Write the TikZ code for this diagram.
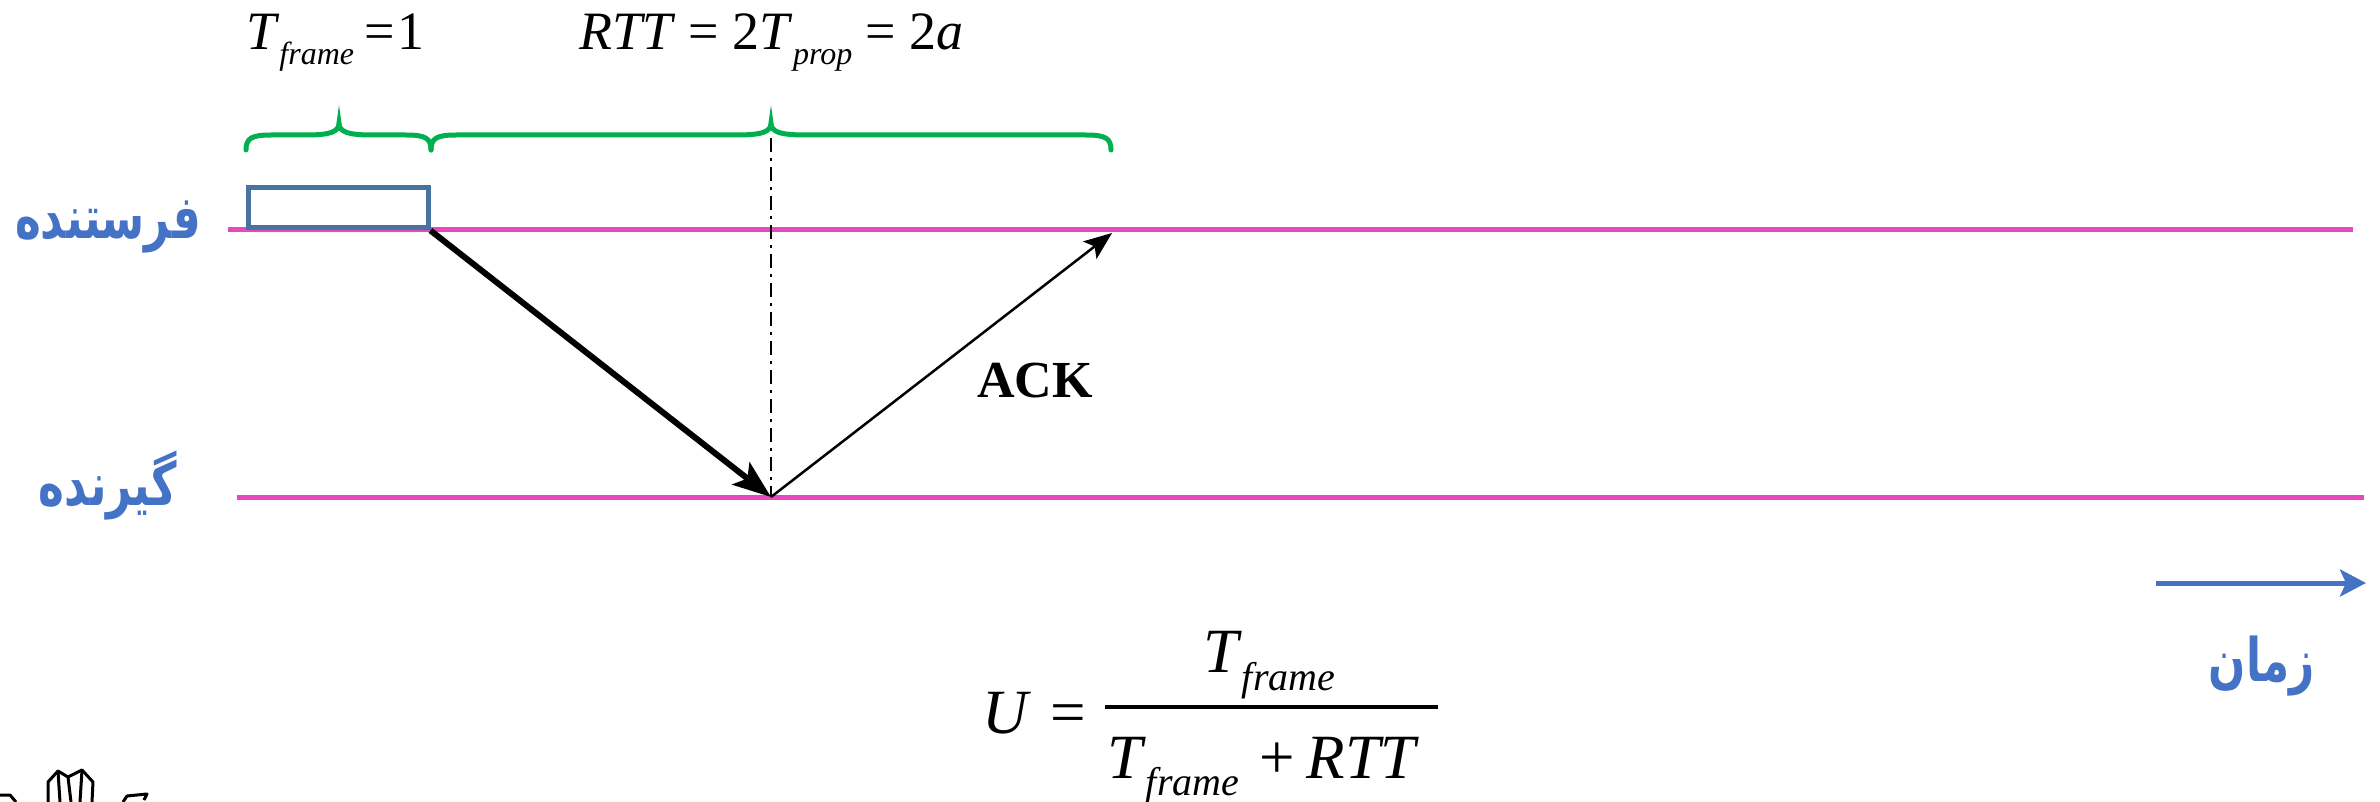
\documentclass[tikz,border=0pt]{standalone}
\usepackage{fontspec}
\setmainfont{Liberation Serif}
\newfontfamily\fa[Script=Arabic]{DejaVu Sans}
\usetikzlibrary{arrows.meta}
\TeXXeTstate=1
\definecolor{pinkline}{RGB}{232,72,190}
\definecolor{bracegreen}{RGB}{0,176,80}
\definecolor{boxblue}{RGB}{72,114,160}
\definecolor{labelblue}{RGB}{68,114,196}
\newcommand{\sbx}[3]{\raisebox{-#2pt}{\fontsize{#1}{#1}\selectfont\itshape #3}}
\newcommand{\fatext}[1]{\scalebox{0.73}[1]{\beginR #1\endR}}
\tikzset{
  timeline/.style={draw=pinkline, line width=5pt},
  bracepath/.style={draw=bracegreen, line width=5pt, line cap=round},
  falabel/.style={text=labelblue, font=\fa\bfseries\fontsize{60}{66}\selectfont, inner sep=0pt},
  mathlbl/.style={font=\fontsize{54}{60}\selectfont, inner sep=0pt, anchor=base west},
  fmath/.style={font=\fontsize{63}{70}\selectfont, inner sep=0pt, anchor=base west},
}
\begin{document}
\begin{tikzpicture}[x=1pt,y=-1pt]
\useasboundingbox (0,0) rectangle (2380,802);
% time lines
\coordinate (sL) at (228,230);
\coordinate (sR) at (2353,230);
\coordinate (rL) at (237,497);
\coordinate (rR) at (2364,497);
\draw[timeline] (sL) -- (sR);
\draw[timeline] (rL) -- (rR);
% frame box
\node[draw=boxblue, line width=5pt, fill=none, minimum width=180pt, minimum height=40pt, inner sep=0pt] (frame) at (338,208) {};
% events
\coordinate (recv) at (771,497);
\coordinate (ackend) at (1112,233);
\coordinate (dtop) at (771,138);
\draw[line width=6pt, -{Stealth[length=38pt,width=28pt,inset=8pt]}] (frame.south east) -- (recv);
\draw[line width=2.5pt, -{Stealth[length=28pt,width=22pt,inset=6pt]}] (recv) -- (ackend);
\draw[line width=2.5pt, dash pattern=on 14pt off 6pt on 3pt off 6pt] (dtop) -- (recv);
\node[font=\bfseries\fontsize{52}{56}\selectfont, inner sep=0pt, anchor=base west] (ack) at (977,397) {ACK};
% braces
\draw[bracepath] (246,150) .. controls (246,138) and (252,135) .. (271,135) -- (306,135) .. controls (330,135) and (339,132) .. (339,123) .. controls (339,132) and (348,135) .. (372,135) -- (406,135) .. controls (425,135) and (431,138) .. (431,150);
\draw[bracepath] (431,150) .. controls (431,138) and (437,135) .. (456,135) -- (736,135) .. controls (762,135) and (771,132) .. (771,123) .. controls (771,132) and (780,135) .. (806,135) -- (1086,135) .. controls (1105,135) and (1111,138) .. (1111,150);
% top labels
\node[mathlbl] (tf) at (246,50) {\textit{T}\sbx{32}{15}{frame}\hspace{10pt}=\hspace{3pt}1};
\node[mathlbl] (rtt) at (579,50) {\textit{RTT} = 2\textit{T}\sbx{32}{15}{prop} = 2\textit{a}};
% persian labels
\node[falabel, anchor=base] (sender) at (108,239) {\fatext{فرستنده}};
\node[falabel, anchor=base] (receiver) at (108,505) {\fatext{گیرنده}};
% time arrow
\coordinate (tA) at (2156,583);
\coordinate (tB) at (2366,583);
\draw[draw=labelblue, line width=5pt, -{Stealth[length=26pt,width=27pt,inset=6pt]}] (tA) -- (tB);
\node[falabel, anchor=base] (time) at (2262,681) {\fatext{زمان}};
% formula
\node[fmath] (U) at (982,733) {\textit{U}};
\node[fmath] (eq) at (1050,733) {=};
\coordinate (barL) at (1105,707);
\coordinate (barR) at (1438,707);
\draw[line width=3.5pt] (barL) -- (barR);
\node[fmath] (num) at (1203,672) {\textit{T}\sbx{40}{18}{frame}};
\node[fmath] (den) at (1107,778) {\textit{T}\sbx{40}{17}{frame}\hspace{20pt}+\hspace{12pt}\textit{RTT}};
% logo fragment
\draw[line width=3pt, line join=round] (48,802) -- (48,782) -- (58,771) -- (68,777) -- (82,770) -- (93,782) -- (92,802);
\draw[line width=3pt] (58,771) -- (60,802) (68,777) -- (71,802) (82,770) -- (80,802);
\draw[line width=3pt, line join=round] (0,795) -- (10,795) -- (16,802);
\draw[line width=3pt, line join=round] (123,802) -- (127,796) -- (147,794) -- (144,800);
\end{tikzpicture}
\end{document}
